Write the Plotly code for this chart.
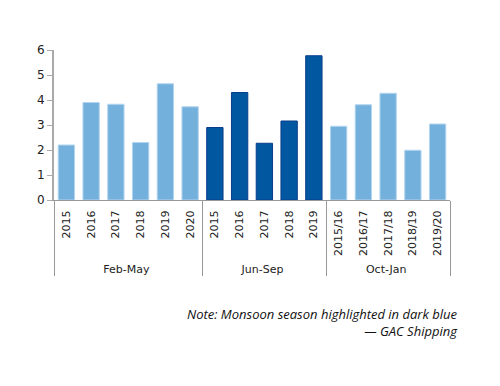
import plotly.graph_objects as go

seasons = ["Feb-May"] * 6 + ["Jun-Sep"] * 5 + ["Oct-Jan"] * 5
years = ["2015", "2016", "2017", "2018", "2019", "2020",
         "2015", "2016", "2017", "2018", "2019",
         "2015/16", "2016/17", "2017/18", "2018/19", "2019/20"]
values = [2.2, 3.9, 3.83, 2.3, 4.65, 3.73,
          2.9, 4.3, 2.27, 3.16, 5.77,
          2.95, 3.81, 4.27, 1.99, 3.04]
monsoon = [s == "Jun-Sep" for s in seasons]

fill = ["#0158A0" if m else "#74B0DC" for m in monsoon]
edge = ["#0A3C8C" if m else "#B3D5EF" for m in monsoon]

fig = go.Figure(go.Bar(
    x=[seasons, years], y=values,
    marker=dict(color=fill, line=dict(color=edge, width=1)),
    width=0.66,
))

fig.update_layout(
    width=500, height=386,
    margin=dict(l=46, r=58, t=42, b=194, autoexpand=False),
    plot_bgcolor="white", paper_bgcolor="white",
    showlegend=False,
    font=dict(family="DejaVu Sans", size=11, color="#222"),
)
fig.update_xaxes(
    type="multicategory", tickangle=-90,
    showline=True, linecolor="#999", linewidth=1,
    showdividers=True, dividercolor="#999", dividerwidth=1,
    ticks="", tickfont=dict(size=11), ticklabelstandoff=5,
)
fig.update_yaxes(
    range=[0, 6], dtick=1, showgrid=False, zeroline=False,
    showline=True, linecolor="#aaa", linewidth=2,
    ticks="outside", ticklen=5, tickcolor="#aaa",
    tickfont=dict(size=12),
)
fig.add_annotation(
    x=(460 - 54) / 396, y=(200 - 322) / 150, xref="paper", yref="paper",
    text="<i>Note: Monsoon season highlighted in dark blue<br>— GAC Shipping</i>",
    showarrow=False, xanchor="right", yanchor="middle", align="right",
    font=dict(family="Open Sans", size=13, color="#111"),
)
fig.write_html("out.html")
